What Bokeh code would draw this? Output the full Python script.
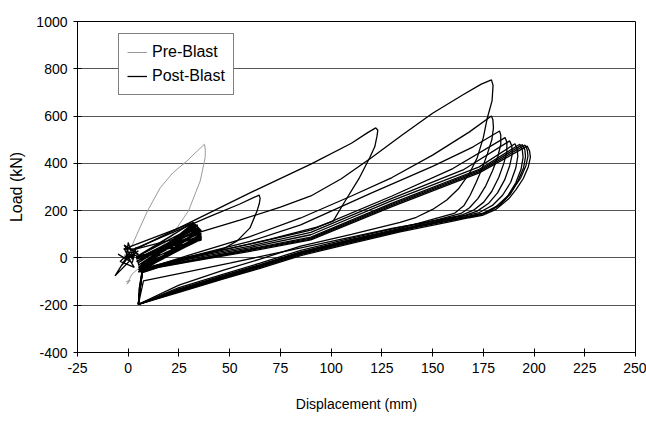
from bokeh.plotting import figure
from bokeh.models import Legend, LegendItem, FixedTicker, Range1d
from bokeh.embed import file_html
from bokeh.resources import INLINE

# ---- axis ticks -------------------------------------------------------------
x_ticks = [-25, 0, 25, 50, 75, 100, 125, 150, 175, 200, 225, 250]
y_ticks = [-400, -200, 0, 200, 400, 600, 800, 1000]
grid_ticks = [-200, 0, 200, 400, 600, 800]

# ---- Pre-Blast test: (displacement mm, load kN) ---------------------------
pre_blast = [(0, 0), (-2, 12), (1, 30), (-1, 16), (2, 55), (4.3, 100), (9.5, 199),
             (15.8, 297), (22, 360), (28.9, 410), (34, 452), (37.6, 481), (38, 455),
             (37.9, 424), (35.5, 326), (29.7, 199), (20.7, 86), (9.2, -13),
             (1.8, -69), (-0.6, -111), (1, -95), (-1, -100)]

# ---- Post-Blast test ----------------------------------------------------------
# small cycles around the origin
post_star = [(0, 5), (-2, 40), (1, -10), (-6.5, -76), (-1, 0), (0, 65), (2, 10), (5, 30),
             (-1, -5), (-5, 16), (2, -20), (4, 45), (-3, -30), (1, 25), (-4, -15),
             (3, -40), (0, 0), (5, 15), (-2, 55), (2, -5), (3, 38), (-2.3, 37),
             (32, 149), (35, 120), (5, 0)]

# repeated cycles between 5 and 35 mm
post_band = [(5, -20), (33, 128), (35, 95), (6, -45), (32, 135), (35, 88), (5, -30),
             (34, 120), (36, 82), (7, -50), (31, 140), (34, 100), (5, -10), (33, 132),
             (36, 90), (6, -55), (32, 145), (35, 105), (4, -5), (34, 125), (36, 85),
             (5, -40), (31, 138), (35, 110), (6, -25), (33, 130), (36, 78), (5, -50),
             (32, 142), (34, 98), (4, -15), (35, 118), (36, 86), (6, -35), (32, 147),
             (35, 92), (5, -2), (33, 112), (36, 80), (6, -52), (4, 5), (32, 150),
             (36, 115), (5, -58), (30, 125), (35, 76), (4, 0), (31, 146), (36, 100),
             (6, -60), (33, 108), (36, 75), (5, 8), (34, 140), (35, 85), (6, -48)]

# cycle to 65 mm
post_c265 = [(3, 38), (20, 101), (40, 175), (55, 228), (62, 256), (64.5, 266), (65, 252),
             (64.6, 230), (63.5, 199), (60, 127), (53.7, 72), (46.8, 38), (35, 10),
             (20, -25), (6, -55)]

# cycle to 122 mm
post_c545 = [(4, 38), (30, 148), (60, 275), (90, 397), (110, 485), (118, 530), (122, 550),
             (123, 540), (122.6, 515), (121.5, 470), (119, 424), (114, 340), (106, 228),
             (101, 156), (93, 130), (70, 80), (40, 20), (15, -30), (5, -60)]

# cycle to 179 mm, peak 750 kN
post_c750 = [(4, 38), (30, 95), (55, 160), (75, 215), (90, 262), (105, 335), (120, 425),
             (135, 520), (150, 612), (165, 690), (174, 735), (179, 753),
             (179.8, 730), (179.3, 664), (177, 593), (175, 509), (172, 424), (168, 355),
             (163, 295), (157, 245), (150, 205), (142, 172), (134, 150), (110, 100),
             (85, 50), (65, -5), (47, -52), (25, -115), (5, -196)]

# later cycles near 180-197 mm
post_c600 = [(5, -196), (5.5, -130), (7, -50), (30, 12), (60, 90), (85, 169), (110, 262),
             (130, 340), (150, 435), (168, 532), (179, 600), (179.7, 585), (180, 550),
             (179.2, 500), (177, 440), (174.5, 380), (171.5, 320), (168.5, 265),
             (165.5, 222), (161, 190), (134, 125), (110, 78), (85, 26), (65, -28),
             (47, -74), (25, -131), (5, -196)]

post_c540 = [(5, -196), (5.5, -125), (7, -45), (30, 5), (60, 70), (85, 140), (120, 275),
             (150, 387), (170, 470), (183, 537), (183.6, 520), (183.6, 480), (182.2, 430),
             (179.6, 370), (176.2, 305), (172.4, 252), (168.2, 212), (164, 188),
             (134, 119), (110, 72), (85, 20), (65, -34), (47, -80), (25, -137), (5, -196)]

post_c510 = [(5, -196), (6, -120), (7, -50), (30, 5), (60, 58), (90, 118), (130, 262),
             (160, 378), (185.7, 509), (186.6, 490), (186.6, 450), (185.1, 400),
             (182.6, 340), (179.2, 282), (175.2, 236), (170.2, 202), (165, 183),
             (134, 113), (110, 66), (85, 14), (65, -40), (47, -86), (25, -143), (5, -196)]

post_c495 = [(5, -196), (6, -110), (7, -55), (15, -33), (30, 0), (60, 50), (90, 108),
             (130, 252), (165, 372), (188, 495), (189, 475), (189.3, 440), (188, 390),
             (185.5, 330), (182, 275), (177.5, 230), (172, 198), (166, 180), (130, 125),
             (89.7, 51), (50, -22), (25, -66), (7.5, -97), (5, -196)]

post_c483 = [(5, -196), (6, -115), (7, -57), (15, -36), (30, -5), (60, 44), (90, 98),
             (130, 242), (173, 385), (190.6, 483), (191.7, 462), (192, 430), (191, 380),
             (188.5, 320), (184.5, 265), (179.5, 222), (173, 192), (166, 178), (160, 172),
             (134, 130), (110, 84), (85, 32), (65, -22), (47, -68), (25, -126), (5, -196)]

post_c481 = [(5, -196), (6, -118), (7, -58), (15, -37), (30, -10), (60, 38), (90, 88),
             (130, 232), (173, 375), (193, 481), (194.2, 458), (194.6, 425), (193.6, 375),
             (191, 318), (187, 262), (181.5, 218), (174.5, 188), (167, 175), (160, 166),
             (134, 122), (110, 76), (85, 24), (65, -30), (47, -76), (25, -134), (5, -196)]

post_c479 = [(5, -196), (6, -120), (7, -59), (15, -38), (30, -12), (60, 35), (90, 84),
             (130, 227), (173, 370), (194.3, 479), (195.5, 456), (195.8, 428), (194.8, 380),
             (192.2, 328), (188.3, 270), (183, 222), (176, 190), (168, 176), (160, 163),
             (134, 119), (110, 73), (85, 20), (65, -34), (47, -80), (25, -138), (5, -196)]

post_c477 = [(5, -196), (6, -122), (7, -60), (15, -38), (30, -15), (60, 32), (90, 80),
             (130, 222), (173, 365), (195.6, 477), (196.7, 455), (197, 430), (196, 390),
             (193.5, 340), (190, 295), (186.5, 255), (180, 207), (173.5, 182), (167, 172),
             (160, 160), (134, 116), (110, 69), (85, 17), (65, -37), (47, -83),
             (25, -140), (5, -196)]

post_c473 = [(5, -196), (6, -124), (7, -62), (15, -40), (30, -17), (60, 28), (90, 76),
             (130, 217), (173, 360), (196.6, 473), (197.8, 452), (198.2, 426), (197.2, 386),
             (194.7, 336), (191.2, 290), (187.5, 250), (181, 204), (174.5, 180), (168, 170),
             (160, 156), (134, 110), (110, 62), (85, 10), (65, -44), (47, -89),
             (25, -146), (5, -196)]

post_loops = [post_star, post_band, post_c265, post_c545, post_c750, post_c600,
              post_c540, post_c510, post_c495, post_c483, post_c481, post_c479,
              post_c477, post_c473]

FONT = "Liberation Sans"

p = figure(width=646, height=425, x_range=Range1d(-25, 250), y_range=Range1d(-400, 1000),
           output_backend="svg", toolbar_location=None,
           min_border_left=77, min_border_right=11, min_border_top=21, min_border_bottom=73)

p.background_fill_color = "white"
p.border_fill_color = "white"
p.outline_line_color = "black"
p.outline_line_width = 1

# grid: horizontal lines only
p.xgrid.visible = False
p.ygrid.ticker = FixedTicker(ticks=grid_ticks)
p.ygrid.grid_line_color = "#555555"
p.ygrid.grid_line_width = 1

for ax, ticks in ((p.xaxis[0], x_ticks), (p.yaxis[0], y_ticks)):
    ax.ticker = FixedTicker(ticks=ticks)
    ax.major_label_overrides = {t: str(t) for t in ticks}
    ax.axis_line_color = "black"
    ax.major_tick_line_color = "black"
    ax.major_tick_in = 4
    ax.major_tick_out = 4
    ax.minor_tick_line_color = None
    ax.major_label_text_font = FONT
    ax.major_label_text_font_size = "14px"
    ax.major_label_text_color = "black"
    ax.major_label_standoff = 6
    ax.axis_label_text_font = FONT
    ax.axis_label_text_font_style = "normal"
    ax.axis_label_text_color = "black"

p.xaxis.axis_label = "Displacement (mm)"
p.xaxis.axis_label_text_font_size = "14px"
p.xaxis.axis_label_standoff = 20
p.yaxis.axis_label = "Load (kN)"
p.yaxis.axis_label_text_font_size = "16px"
p.yaxis.axis_label_standoff = 8

pre_r = p.line([pt[0] for pt in pre_blast], [pt[1] for pt in pre_blast],
               line_color="#9a9a9a", line_width=1)

post_r = p.multi_line([[pt[0] for pt in loop] for loop in post_loops],
                      [[pt[1] for pt in loop] for loop in post_loops],
                      line_color="black", line_width=1.3)

legend = Legend(items=[LegendItem(label="Pre-Blast", renderers=[pre_r]),
                       LegendItem(label="Post-Blast", renderers=[post_r])],
                location=(41, 257))
legend.label_text_font = FONT
legend.label_text_font_size = "16px"
legend.label_text_color = "black"
legend.glyph_width = 20
legend.glyph_height = 20
legend.label_standoff = 5
legend.padding = 8
legend.spacing = 4
legend.margin = 0
legend.border_line_color = "black"
legend.border_line_width = 1
legend.background_fill_color = "white"
legend.background_fill_alpha = 1
p.add_layout(legend, "center")

open("out.html", "w").write(file_html(p, INLINE))
